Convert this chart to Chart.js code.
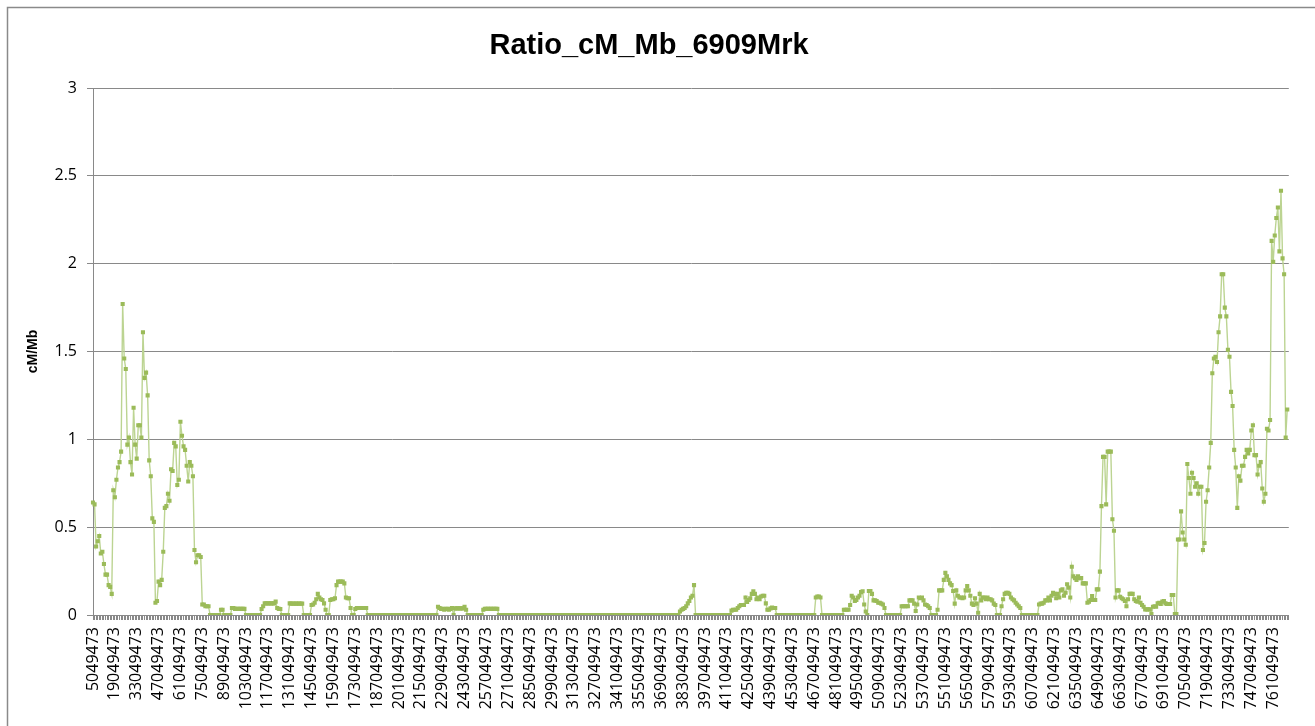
<!DOCTYPE html>
<html>
<head>
<meta charset="utf-8">
<script src="https://cdn.jsdelivr.net/npm/chart.js@4/dist/chart.umd.min.js"></script>
<style>
html,body{margin:0;padding:0;background:#fff;}
#wrap{position:relative;width:1315px;height:726px;overflow:hidden;}
</style>
</head>
<body>
<div id="wrap"><canvas id="c" width="1315" height="726"></canvas></div>
<script>
// ---- chart data ----
const chartTitle = 'Ratio_cM_Mb_6909Mrk';
const yAxisTitle = 'cM/Mb';
const firstPosition = 5049473;   // first marker position (bp)
const positionStep = 1000000;    // spacing between markers (bp)
const categoryCount = 767;
const labelEvery = 14;           // one visible label every 14 categories
const yTickValues = [0, 0.5, 1, 1.5, 2, 2.5, 3];

const ratioValues = [
  0.64,0.63,0.39,0.42,0.45,0.35,0.36,0.29,0.23,0.23,        // 0
  0.17,0.16,0.12,0.71,0.67,0.77,0.84,0.87,0.93,1.77,        // 10
  1.46,1.40,0.97,1.01,0.87,0.80,1.18,0.97,0.89,1.08,        // 20
  1.08,1.01,1.61,1.35,1.38,1.25,0.88,0.79,0.55,0.53,        // 30
  0.07,0.08,0.19,0.17,0.20,0.36,0.61,0.62,0.69,0.65,        // 40
  0.83,0.82,0.98,0.96,0.74,0.77,1.10,1.02,0.96,0.94,        // 50
  0.85,0.76,0.87,0.85,0.79,0.37,0.30,0.34,0.34,0.33,        // 60
  0.06,0.06,0.05,0.05,0.05,0,0,0,0,0,                       // 70
  0,0,0.03,0.03,0,0,0,0,0,0.04,                             // 80
  0.04,0.035,0.035,0.035,0.035,0.035,0.035,0.035,0,0,       // 90
  0,0,0,0,0,0,0,0,0.034,0.05,                               // 100
  0.066,0.066,0.066,0.066,0.066,0.066,0.066,0.076,0.04,0.035, // 110
  0.034,0,0,0,0,0,0.066,0.065,0.065,0.065,                  // 120
  0.065,0.065,0.065,0.065,0.065,0,0,0,0,0,                  // 130
  0.057,0.06,0.07,0.09,0.12,0.10,0.09,0.085,0.066,0.03,     // 140
  0,0,0.085,0.09,0.09,0.095,0.17,0.19,0.19,0.19,            // 150
  0.19,0.18,0.10,0.095,0.095,0.04,0,0,0.034,0.04,           // 160
  0.04,0.04,0.04,0.04,0.04,0.04,0,0,0,0,                    // 170
  0,0,0,0,0,0,0,0,0,0,                                      // 180
  0,0,0,0,0,0,0,0,0,0,                                      // 190
  0,0,0,0,0,0,0,0,0,0,                                      // 200
  0,0,0,0,0,0,0,0,0,0,                                      // 210
  0,0.047,0.04,0.035,0.035,0.03,0.035,0.035,0.03,0.035,     // 220
  0.04,0,0.038,0.038,0.038,0.038,0.038,0.038,0.047,0.03,    // 230
  0,0,0,0,0,0,0,0,0,0,                                      // 240
  0.03,0.035,0.035,0.035,0.035,0.035,0.035,0.035,0.035,0.035, // 250
  0,0,0,0,0,0,0,0,0,0,                                      // 260
  0,0,0,0,0,0,0,0,0,0,                                      // 270
  0,0,0,0,0,0,0,0,0,0,                                      // 280
  0,0,0,0,0,0,0,0,0,0,                                      // 290
  0,0,0,0,0,0,0,0,0,0,                                      // 300
  0,0,0,0,0,0,0,0,0,0,                                      // 310
  0,0,0,0,0,0,0,0,0,0,                                      // 320
  0,0,0,0,0,0,0,0,0,0,                                      // 330
  0,0,0,0,0,0,0,0,0,0,                                      // 340
  0,0,0,0,0,0,0,0,0,0,                                      // 350
  0,0,0,0,0,0,0,0,0,0,                                      // 360
  0,0,0,0,0,0,0.02,0.03,0.035,0.04,                         // 370
  0.05,0.066,0.08,0.1,0.11,0.17,0,0,0,0,                    // 380
  0,0,0,0,0,0,0,0,0,0,                                      // 390
  0,0,0,0,0,0,0,0,0,0.025,                                  // 400
  0.03,0.03,0.03,0.04,0.05,0.057,0.057,0.057,0.1,0.075,     // 410
  0.085,0.095,0.12,0.135,0.12,0.09,0.1,0.09,0.105,0.11,     // 420
  0.11,0.066,0.03,0.03,0.038,0.042,0.04,0.04,0,0,           // 430
  0,0,0,0,0,0,0,0,0,0,                                      // 440
  0,0,0,0,0,0,0,0,0,0,                                      // 450
  0,0,0,0.1,0.105,0.105,0.1,0,0,0,                          // 460
  0,0,0,0,0,0,0,0,0,0,                                      // 470
  0,0.03,0.03,0.03,0.03,0.057,0.11,0.1,0.08,0.085,          // 480
  0.1,0.11,0.13,0.135,0.06,0.02,0,0.137,0.137,0.12,         // 490
  0.083,0.083,0.08,0.07,0.07,0.065,0.06,0.04,0,0,           // 500
  0,0,0,0,0,0,0,0,0.05,0.05,                                // 510
  0.05,0.05,0.05,0.083,0.083,0.083,0.065,0.023,0.06,0.1,    // 520
  0.095,0.1,0.083,0.06,0.057,0.05,0.04,0,0,0,               // 530
  0,0.03,0.14,0.14,0.14,0.2,0.24,0.22,0.2,0.18,             // 540
  0.17,0.137,0.065,0.14,0.11,0.1,0.1,0.095,0.1,0.14,        // 550
  0.165,0.14,0.11,0.065,0.057,0.095,0.065,0.013,0.12,0.083, // 560
  0.1,0.1,0.09,0.1,0.09,0.09,0.083,0.065,0.057,0,           // 570
  0,0,0.05,0.09,0.12,0.127,0.127,0.12,0.1,0.09,             // 580
  0.083,0.07,0.06,0.05,0.04,0,0,0,0,0,                      // 590
  0,0,0,0,0,0,0.06,0.065,0.065,0.07,                        // 600
  0.083,0.083,0.1,0.083,0.11,0.127,0.12,0.095,0.12,0.1,     // 610
  0.14,0.146,0.11,0.127,0.175,0.156,0.1,0.275,0.22,0.21,    // 620
  0.2,0.22,0.21,0.21,0.18,0.18,0.18,0.07,0.076,0.085,       // 630
  0.108,0.085,0.085,0.146,0.146,0.247,0.62,0.9,0.9,0.63,    // 640
  0.93,0.93,0.93,0.545,0.48,0.1,0.14,0.14,0.104,0.095,      // 650
  0.09,0.08,0.05,0.09,0.12,0.12,0.12,0.09,0.08,0.076,       // 660
  0.1,0.07,0.057,0.047,0.032,0.032,0.032,0.032,0.005,0.047, // 670
  0.05,0.047,0.066,0.07,0.063,0.076,0.08,0.066,0.063,0.063, // 680
  0.063,0.114,0.114,0.005,0.005,0.43,0.43,0.59,0.47,0.43,   // 690
  0.40,0.86,0.78,0.69,0.81,0.78,0.73,0.75,0.69,0.73,        // 700
  0.73,0.37,0.41,0.645,0.71,0.84,0.98,1.376,1.46,1.47,      // 710
  1.44,1.61,1.70,1.94,1.94,1.75,1.70,1.51,1.47,1.27,        // 720
  1.19,0.94,0.84,0.61,0.79,0.765,0.85,0.85,0.90,0.94,       // 730
  0.92,0.94,1.05,1.08,0.91,0.91,0.80,0.85,0.87,0.72,        // 740
  0.645,0.69,1.06,1.05,1.11,2.13,2.01,2.16,2.26,2.32,       // 750
  2.07,2.415,2.03,1.94,1.01,1.17                            // 760
];

const categories = Array.from({length: categoryCount}, (_, i) => String(firstPosition + i * positionStep));

// ---- drawing ----
const GRID = '#898989';
const framePlugin = {
  id: 'frame',
  beforeDraw(chart) {
    const c = chart.ctx;
    c.save();
    c.fillStyle = '#ffffff';
    c.fillRect(0, 0, chart.width, chart.height);
    c.strokeStyle = '#8a8a8a';
    c.lineWidth = 1.5;
    c.strokeRect(7.5, 7.5, 1400, 800);
    c.restore();
  }
};

new Chart(document.getElementById('c').getContext('2d'), {
  type: 'line',
  data: {
    labels: categories,
    datasets: [{
      data: ratioValues,
      borderColor: '#bcd492',
      borderWidth: 1.4,
      tension: 0,
      fill: false,
      pointStyle: 'rect',
      pointRadius: 2.9,
      pointBorderWidth: 0,
      pointBackgroundColor: '#9bbb59',
      pointBorderColor: '#9bbb59'
    }]
  },
  options: {
    responsive: false,
    animation: false,
    layout: { padding: { left: 0, right: 17, top: 0, bottom: 0 } },
    plugins: {
      legend: { display: false },
      tooltip: { enabled: false },
      title: {
        display: true,
        text: chartTitle,
        color: '#000',
        font: { family: 'Liberation Sans', size: 29, weight: 'bold', lineHeight: 1.2 },
        padding: { top: 29, bottom: 24.2 }
      }
    },
    scales: {
      x: {
        offset: false,
        grid: { drawOnChartArea: false, drawTicks: true, tickLength: 5, color: GRID, lineWidth: 1 },
        border: { color: GRID, width: 1 },
        ticks: {
          autoSkip: false,
          minRotation: 90,
          maxRotation: 90,
          padding: 7,
          color: '#000',
          font: { family: 'Open Sans', size: 16 },
          callback: (v, i) => (i % labelEvery === 0 ? categories[i] : '')
        },
        afterFit(s) { s.height = 111; }
      },
      y: {
        min: 0,
        max: 3,
        afterBuildTicks(s) { s.ticks = yTickValues.map(v => ({ value: v })); },
        grid: { color: GRID, lineWidth: 1, tickLength: 6 },
        border: { color: GRID, width: 1 },
        ticks: {
          padding: 10,
          color: '#000',
          font: { family: 'Open Sans', size: 16 },
          callback: v => String(v)
        },
        title: {
          display: true,
          text: yAxisTitle,
          color: '#000',
          font: { family: 'Liberation Sans', size: 14, weight: 'bold' },
          padding: { top: 25, bottom: 0 }
        },
        afterFit(s) { s.width = 93; }
      }
    }
  },
  plugins: [framePlugin]
});
</script>
</body>
</html>
